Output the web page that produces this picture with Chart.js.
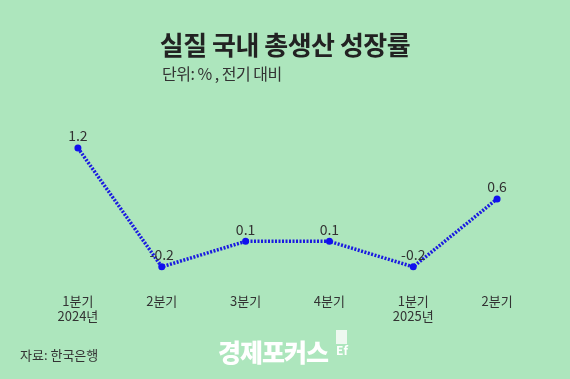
<!DOCTYPE html>
<html><head><meta charset="utf-8">
<script src="https://cdn.jsdelivr.net/npm/chart.js@4"></script>
<style>
html,body{margin:0;padding:0;background:#ade6bd;}
#wrap{position:relative;width:570px;height:379px;background:#ade6bd;overflow:hidden;font-family:"Noto Sans CJK KR","Noto Sans",sans-serif;}
#c{position:absolute;left:0;top:0;}
.t{position:absolute;white-space:nowrap;}
#title{left:0;width:570px;text-align:center;top:25px;font-size:26px;font-weight:700;color:#222;letter-spacing:-0.5px;}
#sub{left:162px;top:61px;font-size:16px;color:#333;letter-spacing:-0.5px;}
#src{left:20px;top:345px;font-size:13px;color:#333;}
#logo{left:218px;top:333px;font-size:25px;font-weight:900;color:#fff;letter-spacing:-1px;}
#ef{position:absolute;left:336px;top:330px;width:11px;height:14px;background:#eef8f0;}
#ef2{left:336px;top:341px;font-size:12px;font-weight:700;color:#fff;}
</style></head>
<body><div id="wrap">
<canvas id="c" width="570" height="379"></canvas>
<div class="t" id="title">실질 국내 총생산 성장률</div>
<div class="t" id="sub">단위: % , 전기 대비</div>
<div class="t" id="src">자료: 한국은행</div>
<div class="t" id="logo">경제포커스</div>
<div id="ef"></div>
<div class="t" id="ef2">Ef</div>
</div>
<script>
const categories = [['1분기','2024년'],['2분기'],['3분기'],['4분기'],['1분기','2025년'],['2분기']];
const growth = [1.2, -0.2, 0.1, 0.1, -0.2, 0.6];
const valueLabels = ['1.2','-0.2','0.1','0.1','-0.2','0.6'];

const labelPlugin = {
  id:'vlabels',
  afterDatasetsDraw(chart){
    const ctx = chart.ctx;
    const meta = chart.getDatasetMeta(0);
    ctx.save();
    ctx.font = '14px "Noto Sans CJK KR","Noto Sans",sans-serif';
    ctx.fillStyle = '#333';
    ctx.textAlign = 'center';
    ctx.textBaseline = 'bottom';
    meta.data.forEach((p,i)=>{
      ctx.fillText(valueLabels[i], p.x, p.y - 5);
    });
    ctx.restore();
  }
};

new Chart(document.getElementById('c'), {
  type:'line',
  data:{labels:categories, datasets:[{
    data:growth,
    borderColor:'#1a1ae0',
    borderWidth:3.5,
    borderDash:[2,1.5],
    pointRadius:3.5,
    pointBackgroundColor:'#1010ee',
    pointBorderWidth:0,
    tension:0,
    fill:false
  }]},
  options:{
    responsive:false, animation:false,
    layout:{padding:{left:36,right:31,top:131,bottom:54}},
    plugins:{legend:{display:false},tooltip:{enabled:false}},
    scales:{
      x:{offset:true, grid:{display:false}, border:{display:false},
         ticks:{color:'#333', padding:1, maxRotation:0, autoSkip:false,
                font:{size:13, family:'"Noto Sans CJK KR","Noto Sans",sans-serif', lineHeight:1.2}}},
      y:{display:false, min:-0.4, max:1.4}
    }
  },
  plugins:[labelPlugin]
});
</script>
</body></html>
